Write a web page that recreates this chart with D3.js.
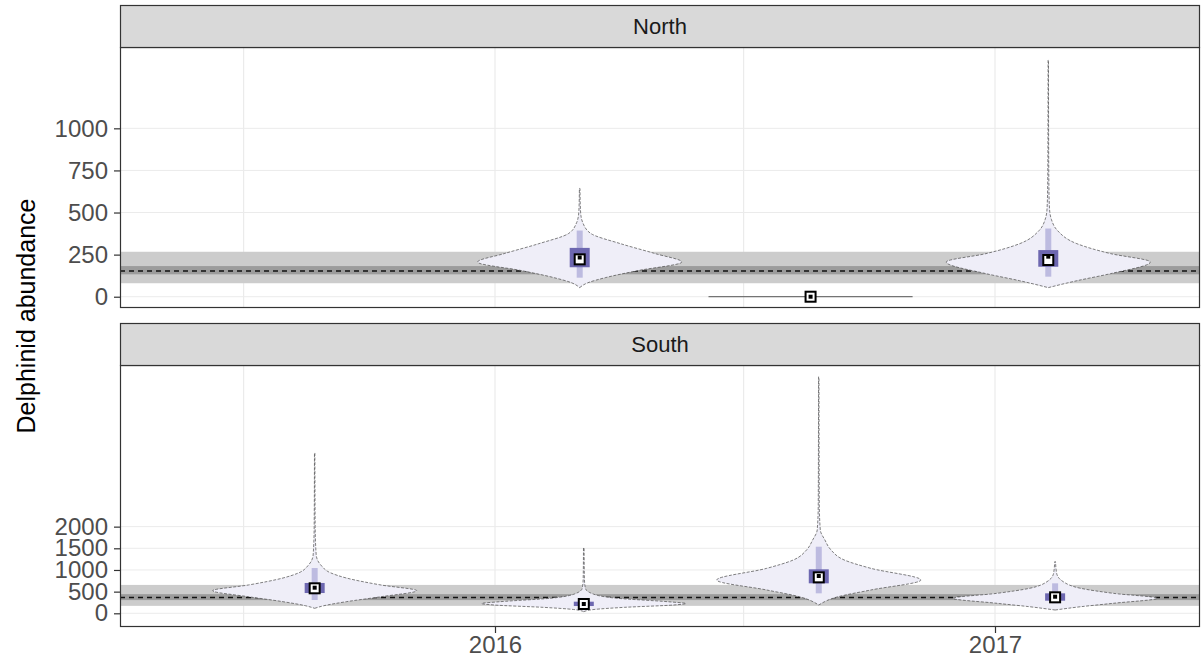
<!DOCTYPE html>
<html>
<head>
<meta charset="utf-8">
<script src="https://cdn.jsdelivr.net/npm/d3@7"></script>
<style>
  html, body { margin: 0; padding: 0; background: #fff; }
  svg { display: block; font-family: "Liberation Sans", Arial, sans-serif; }
</style>
</head>
<body>
<svg id="chart" width="1201" height="661"></svg>
<script>
// ---- Data ---------------------------------------------------------------
const regions = ["North", "South"];
const xTickDates = ["2016-01-01", "2017-01-01"];
const xTickLabels = ["2016", "2017"];
const xGridDates = ["2015-07-01", "2016-01-01", "2016-07-01", "2017-01-01"];
const northTicks = [0, 250, 500, 750, 1000];
const southTicks = [0, 500, 1000, 1500, 2000];

// Reference level per region: mean line, inner and outer band
const northLevel = { mean: 153, inner: [133, 182], outer: [80, 267] };
const southLevel = { mean: 365, inner: [305, 442], outer: [172, 655] };

// Survey dates
const surveyRegion = ["South", "North", "South", "North", "South", "North", "South"];
const surveyDates = ["2015-08-22", "2016-03-03", "2016-03-06", "2016-08-19", "2016-08-25", "2017-02-09", "2017-02-14"];

// Posterior density outlines: abundance values and relative half widths
const densValues = [
  [115, 175, 268, 383, 522, 653, 815, 930, 1115, 1346, 2000, 3700],
  [54, 83, 113, 155, 206, 256, 315, 375, 440, 482, 540, 643],
  [37, 88, 138, 192, 226, 268, 346, 461, 577, 800, 1514],
  [0, 0],
  [192, 383, 538, 768, 1038, 1230, 1461, 1692, 1923, 2540, 5455],
  [54, 95, 137, 206, 256, 315, 393, 460, 524, 661, 1000, 1405],
  [76, 152, 231, 346, 461, 577, 729, 923, 1191]
];
const densWidths = [
  [0, 0.09, 0.31, 0.65, 1.0, 0.65, 0.31, 0.16, 0.06, 0.015, 0.005, 0.002],
  [0, 0.08, 0.25, 0.57, 1.0, 0.74, 0.40, 0.11, 0.03, 0.012, 0.006, 0.003],
  [0, 0.1, 0.4, 0.88, 1.0, 0.82, 0.33, 0.075, 0.015, 0.006, 0.003],
  [1, 1],
  [0, 0.19, 0.51, 1.0, 0.51, 0.25, 0.12, 0.06, 0.015, 0.005, 0.002],
  [0, 0.28, 0.61, 1.0, 0.61, 0.28, 0.09, 0.03, 0.012, 0.006, 0.003, 0.002],
  [0, 0.25, 0.57, 1.0, 0.57, 0.25, 0.08, 0.015, 0.004]
];

// Summary statistics per survey
const lo95   = [307, 113, 120, 0, 461, 119, 231];
const q25    = [468, 175, 168, 0, 692, 178, 291];
const median = [577, 222, 215, 0, 830, 218, 369];
const mean   = [591, 233, 215, 0, 861, 238, 383];
const q75    = [700, 290, 268, 0, 1015, 277, 461];
const hi95   = [1045, 393, 330, 0, 1537, 405, 692];

// ---- Layout -------------------------------------------------------------
const svg = d3.select("#chart");
const left = 120, right = 1200;
const panels = {
  North: { strip: [5, 47], body: [47, 308], domain: [-67, 1483], ticks: northTicks, level: northLevel },
  South: { strip: [323, 365], body: [365, 627], domain: [-316, 5730], ticks: southTicks, level: southLevel }
};
const parse = d3.utcParse("%Y-%m-%d");
const x = d3.scaleUtc()
  .domain([parse("2016-01-01"), parse("2017-01-01")])
  .range([495, 995]);
const halfWidthDays = 74.7;
const dayMs = 86400000;
const tickFont = 24;

const col = {
  grid: "#ebebeb", border: "#333333", strip: "#d9d9d9",
  outer: "#cccccc", inner: "#9c9c9c",
  violin: "#efeef8", violinLine: "#4a4a4a",
  ci95: "#bdbbe0", ci50: "#6d67b0"
};

regions.forEach((region, ri) => {
  const p = panels[region];
  const y = d3.scaleLinear().domain(p.domain).range([p.body[1], p.body[0]]);
  const g = svg.append("g");
  const clipId = "clip-" + region;
  svg.append("clipPath").attr("id", clipId)
    .append("rect").attr("x", left).attr("y", p.body[0])
    .attr("width", right - left).attr("height", p.body[1] - p.body[0]);

  // panel background and grid
  g.append("rect").attr("x", left).attr("y", p.body[0])
    .attr("width", right - left).attr("height", p.body[1] - p.body[0]).attr("fill", "#fff");
  g.selectAll(".hg").data(p.ticks).join("line")
    .attr("x1", left).attr("x2", right)
    .attr("y1", d => y(d)).attr("y2", d => y(d))
    .attr("stroke", col.grid).attr("stroke-width", 1);
  g.selectAll(".vg").data(xGridDates).join("line")
    .attr("x1", d => x(parse(d))).attr("x2", d => x(parse(d)))
    .attr("y1", p.body[0]).attr("y2", p.body[1])
    .attr("stroke", col.grid).attr("stroke-width", 1.2);

  const body = g.append("g").attr("clip-path", `url(#${clipId})`);

  // reference bands
  const lv = p.level;
  body.append("rect").attr("x", left).attr("width", right - left)
    .attr("y", y(lv.outer[1])).attr("height", y(lv.outer[0]) - y(lv.outer[1]))
    .attr("fill", col.outer);
  body.append("rect").attr("x", left).attr("width", right - left)
    .attr("y", y(lv.inner[1])).attr("height", y(lv.inner[0]) - y(lv.inner[1]))
    .attr("fill", col.inner);
  body.append("line").attr("x1", left).attr("x2", right)
    .attr("y1", y(lv.mean)).attr("y2", y(lv.mean))
    .attr("stroke", "#111").attr("stroke-width", 1.5).attr("stroke-dasharray", "5,4");

  // violins
  surveyDates.forEach((ds, i) => {
    if (surveyRegion[i] !== region) return;
    const d0 = parse(ds);
    const cx = x(d0);
    const hw = x(new Date(d0.getTime() + halfWidthDays * dayMs)) - cx;
    const pts = densValues[i].map((v, k) => ({ v, w: densWidths[i][k] }));
    const flat = pts.every(q => q.v === pts[0].v);
    if (flat) {
      body.append("line")
        .attr("x1", cx - hw * pts[0].w).attr("x2", cx + hw * pts[0].w)
        .attr("y1", y(pts[0].v)).attr("y2", y(pts[0].v))
        .attr("stroke", "#555").attr("stroke-width", 1);
    } else {
      const area = d3.area()
        .curve(d3.curveMonotoneY)
        .y(q => y(q.v))
        .x0(q => cx - hw * q.w)
        .x1(q => cx + hw * q.w);
      body.append("path").attr("d", area(pts))
        .attr("fill", col.violin)
        .attr("stroke", col.violinLine).attr("stroke-width", 0.7)
        .attr("stroke-dasharray", "3,1.5");
    }
    // 95% interval
    body.append("rect")
      .attr("x", cx - 3).attr("width", 6)
      .attr("y", y(hi95[i])).attr("height", Math.max(0, y(lo95[i]) - y(hi95[i])))
      .attr("fill", col.ci95);
    // 50% interval
    body.append("rect")
      .attr("x", cx - 10).attr("width", 20)
      .attr("y", y(q75[i])).attr("height", Math.max(0, y(q25[i]) - y(q75[i])))
      .attr("fill", col.ci50);
    // median and mean markers
    body.append("rect")
      .attr("x", cx - 5).attr("y", y(median[i]) - 5)
      .attr("width", 10).attr("height", 10)
      .attr("fill", "#fff").attr("stroke", "#000").attr("stroke-width", 2);
    body.append("rect")
      .attr("x", cx - 2).attr("y", y(mean[i]) - 2)
      .attr("width", 4).attr("height", 4)
      .attr("fill", "#000");
  });

  // panel border
  g.append("rect").attr("x", left + 0.5).attr("y", p.body[0] + 0.5)
    .attr("width", right - left - 1).attr("height", p.body[1] - p.body[0] - 1)
    .attr("fill", "none").attr("stroke", col.border).attr("stroke-width", 1.2);

  // strip
  g.append("rect").attr("x", left + 0.5).attr("y", p.strip[0] + 0.5)
    .attr("width", right - left - 1).attr("height", p.strip[1] - p.strip[0])
    .attr("fill", col.strip).attr("stroke", col.border).attr("stroke-width", 1.2);
  g.append("text").attr("x", (left + right) / 2).attr("y", (p.strip[0] + p.strip[1]) / 2)
    .attr("text-anchor", "middle").attr("dominant-baseline", "central")
    .attr("font-size", 22).attr("fill", "#1a1a1a").text(region);

  // y axis
  const yAxis = d3.axisLeft(y).tickValues(p.ticks).tickFormat(d3.format("d"))
    .tickSize(6).tickPadding(6);
  const ya = svg.append("g").attr("transform", `translate(${left},0)`).call(yAxis);
  ya.select(".domain").remove();
  ya.selectAll(".tick line").attr("stroke", col.border).attr("stroke-width", 1.2);
  ya.selectAll(".tick text").attr("font-size", tickFont).attr("fill", "#4d4d4d")
    .attr("font-family", "Liberation Sans, Arial, sans-serif");

  // x axis under the bottom panel
  if (ri === regions.length - 1) {
    const xAxis = d3.axisBottom(x)
      .tickValues(xTickDates.map(parse))
      .tickFormat((d, k) => xTickLabels[k]).tickSize(6).tickPadding(3);
    const xa = svg.append("g").attr("transform", `translate(0,${p.body[1]})`).call(xAxis);
    xa.select(".domain").remove();
    xa.selectAll(".tick line").attr("stroke", col.border).attr("stroke-width", 1.2);
    xa.selectAll(".tick text").attr("font-size", tickFont).attr("fill", "#4d4d4d")
      .attr("font-family", "Liberation Sans, Arial, sans-serif");
  }
});

// y axis title
svg.append("text")
  .attr("transform", `translate(26,${(5 + 627) / 2}) rotate(-90)`)
  .attr("text-anchor", "middle").attr("dominant-baseline", "central")
  .attr("font-size", 25).attr("fill", "#000")
  .text("Delphinid abundance");
</script>
</body>
</html>
